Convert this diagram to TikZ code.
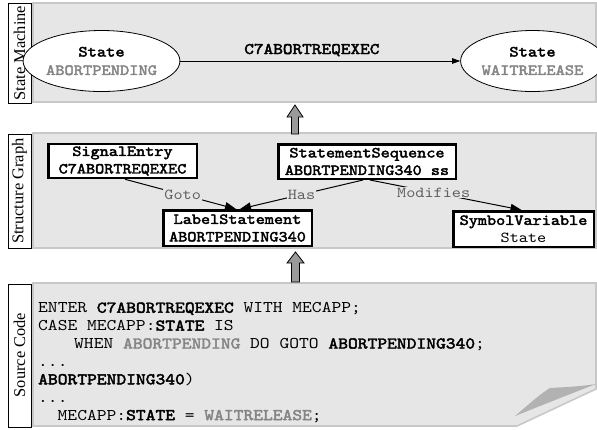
\documentclass[tikz,border=0pt]{standalone}
\usepackage{fontspec}
\setmainfont{Liberation Serif}
% slab-serif typewriter face, widened to the usual 0.6em typewriter pitch
\newfontfamily\codefont[Extension=.otf,BoldFont=lmmono10-regular,
  BoldFeatures={FakeBold=2.6},FakeStretch=1.14]{lmmono10-regular}
\usetikzlibrary{arrows.meta,shapes.geometric}

\definecolor{panelfill}{HTML}{E6E6E6}
\definecolor{paneledge}{HTML}{C8C8C8}
\definecolor{dimtext}{HTML}{858585}
\definecolor{edgetext}{HTML}{606060}
\definecolor{curlfill}{HTML}{B2B2B2}
\definecolor{blockfill}{HTML}{9A9A9A}

\frenchspacing

\begin{document}
\begin{tikzpicture}[x=1bp,y=-1bp,
  panel/.style={fill=panelfill,draw=paneledge,line width=1.6bp},
  sidebox/.style={draw=black,fill=white,line width=0.8bp},
  sidelabel/.style={rotate=90,inner sep=0,font=\fontsize{16.5}{18}\selectfont},
  statenode/.style={ellipse,draw=black,fill=white,line width=0.8bp,inner sep=0,
    align=center,font=\codefont\bfseries\fontsize{15.5}{18.5}\selectfont},
  classbox/.style={draw=black,fill=white,line width=2.5bp,inner sep=0,
    align=center,font=\codefont\fontsize{15.3}{17.6}\selectfont},
  transition/.style={line width=0.8bp,-{Triangle[length=8bp,width=5.5bp]}},
  relation/.style={line width=1bp,-{Triangle[length=11bp,width=8bp]}},
  rellabel/.style={fill=panelfill,inner sep=1bp,text=edgetext,
    font=\codefont\fontsize{15.3}{17}\selectfont},
  codeline/.style={anchor=base west,inner sep=0,
    font=\codefont\fontsize{16.4}{18}\selectfont},
  blockarrow/.style={fill=blockfill,draw=black,line width=0.8bp,line join=miter}]

\useasboundingbox (0,0) rectangle (597,429);

% ---- panels -------------------------------------------------------------
\draw[panel] (33,3) rectangle (596,102);
\draw[panel] (33,133) rectangle (596,248);
\draw[panel] (33,283) -- (596,283) -- (596,389) -- (517,426) -- (33,426) -- cycle;

% folded page corner
\fill[curlfill] (515,416) .. controls (528,405) and (540,394) .. (550,388)
  .. controls (568,387) and (584,386) .. (596,384)
  .. controls (570,394) and (540,406) .. (515,416) -- cycle;

% ---- side captions -------------------------------------------------------
\draw[sidebox] (8,3) rectangle (31,103);
\node[sidelabel] (capsm) at (19.5,53) {State Machine};
\draw[sidebox] (8,134) rectangle (31,248);
\node[sidelabel] (capsg) at (19.5,191) {Structure Graph};
\draw[sidebox] (8,284) rectangle (31,427);
\node[sidelabel] (capsc) at (19.5,355) {Source Code};

% ---- block arrows between the layers -------------------------------------
\draw[blockarrow] (291.5,134) -- (291.5,117) -- (287,117) -- (295,105)
  -- (303,117) -- (298.5,117) -- (298.5,134) -- cycle;
\draw[blockarrow] (291.5,282) -- (291.5,263) -- (287,263) -- (295.5,252)
  -- (304,263) -- (299.5,263) -- (299.5,282) -- cycle;

% ---- state machine -------------------------------------------------------
\node[statenode,minimum width=122bp,minimum height=61bp] (pending) at (101.5,61)
  {State\\\textcolor{dimtext}{ABORTPENDING}};
\node[statenode,minimum width=120bp,minimum height=61bp] (waiting) at (532.5,61)
  {State\\\textcolor{dimtext}{WAITRELEASE}};
\draw[transition] (pending) -- (waiting)
  node[pos=0.47,anchor=base,yshift=7bp,inner sep=0,
       font=\codefont\bfseries\fontsize{16.2}{18}\selectfont] {C7ABORTREQEXEC};

% ---- structure graph -----------------------------------------------------
\node[classbox,minimum width=148.5bp,minimum height=34bp] (sig) at (122.5,161)
  {\textbf{SignalEntry}\\\textbf{C7ABORTREQEXEC}};
\node[classbox,minimum width=177.5bp,minimum height=34.5bp] (seq) at (367,161.5)
  {\textbf{StatementSequence}\\\textbf{ABORTPENDING340 ss}};
\node[classbox,minimum width=148.5bp,minimum height=35.5bp] (lbl) at (237.5,228)
  {\textbf{LabelStatement}\\\textbf{ABORTPENDING340}};
\node[classbox,minimum width=140.5bp,minimum height=35.5bp] (sym) at (523.5,229)
  {\textbf{SymbolVariable}\\State};

\draw[relation] ([xshift=2.5bp]sig.south) -- ([xshift=-1.5bp]lbl.north)
  node[rellabel,pos=0.52] {Goto};
\draw[relation] ([xshift=-4bp]seq.south) -- ([xshift=2.5bp]lbl.north)
  node[rellabel,pos=0.5] {Has};
\draw[relation] ([xshift=3bp]seq.south) -- ([xshift=-2bp]sym.north)
  node[rellabel,pos=0.42] {Modifies};

% ---- source code ---------------------------------------------------------
\node[codeline] (l1) at (38,312.7)
  {ENTER \textbf{C7ABORTREQEXEC} WITH MECAPP;};
\node[codeline] (l2) at (38,330.6)
  {CASE MECAPP:\textbf{STATE} IS};
\node[codeline] (l3) at (74,348.5)
  {WHEN \textcolor{dimtext}{\textbf{ABORTPENDING}} DO GOTO \textbf{ABORTPENDING340};};
\node[codeline] (l4) at (38,366.4) {...};
\node[codeline] (l5) at (38,384.3) {\textbf{ABORTPENDING340})};
\node[codeline] (l6) at (38,402.2) {...};
\node[codeline] (l7) at (57.5,420.1)
  {MECAPP:\textbf{STATE} = \textcolor{dimtext}{\textbf{WAITRELEASE}};};

\end{tikzpicture}
\end{document}
